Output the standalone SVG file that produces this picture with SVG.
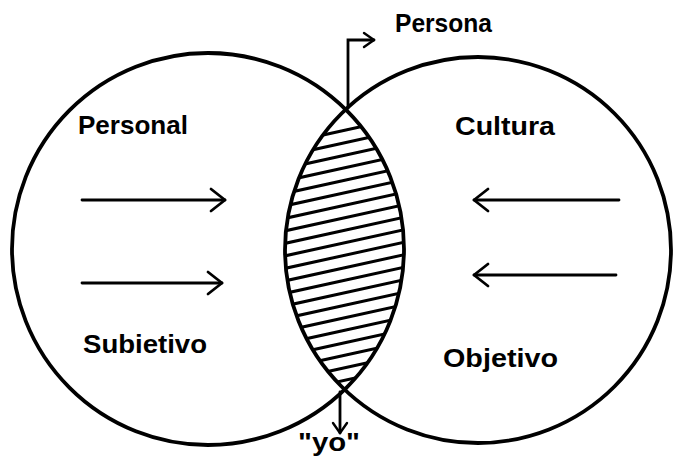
<svg xmlns="http://www.w3.org/2000/svg" width="674" height="459" viewBox="0 0 674 459">
  <style>
    .circ { fill: none; stroke: #000; stroke-width: 3.8; }
    .hatch { fill: none; stroke: #000; stroke-width: 3; stroke-linecap: round; }
    .arr { fill: none; stroke: #000; stroke-width: 2.8; stroke-linecap: round; }
    .lbl { font-family: "Liberation Sans", Arial, sans-serif; font-weight: bold; font-size: 25px; fill: #000; }
  </style>
  <defs>
    <clipPath id="clipL"><circle cx="208" cy="249" r="196"/></clipPath>
    <clipPath id="clipR"><circle cx="478" cy="250" r="193"/></clipPath>
    <marker id="headBig" markerUnits="userSpaceOnUse" markerWidth="40" markerHeight="40" refX="0" refY="0" orient="auto" overflow="visible">
      <path d="M -14 -11 L 0 0 L -14 11" fill="none" stroke="#000" stroke-width="2.8" stroke-linecap="round" stroke-linejoin="round"/>
    </marker>
    <marker id="headSmall" markerUnits="userSpaceOnUse" markerWidth="30" markerHeight="30" refX="0" refY="0" orient="auto" overflow="visible">
      <path d="M -10 -7 L 0 0 L -10 7" fill="none" stroke="#000" stroke-width="2.4" stroke-linecap="round" stroke-linejoin="round"/>
    </marker>
  </defs>
  <rect width="674" height="459" fill="#fff"/>

  <g id="node-personal">
    <circle class="circ" cx="208" cy="249" r="196"/>
    <text class="lbl" x="78" y="134" textLength="110" lengthAdjust="spacingAndGlyphs">Personal</text>
    <text class="lbl" x="83" y="353" textLength="124" lengthAdjust="spacingAndGlyphs">Subietivo</text>
  </g>

  <g id="node-cultura">
    <circle class="circ" cx="478" cy="250" r="193"/>
    <text class="lbl" x="455" y="135" textLength="100" lengthAdjust="spacingAndGlyphs">Cultura</text>
    <text class="lbl" x="443" y="367" textLength="115" lengthAdjust="spacingAndGlyphs">Objetivo</text>
  </g>

  <g id="node-lens">
    <g clip-path="url(#clipL)">
      <g clip-path="url(#clipR)">
        <path class="hatch" d="M280 144.5 L412 115.5 M280 157 L412 128 M280 169.5 L412 140.5 M280 182 L412 153 M280 194.5 L412 165.5 M280 207 L412 178 M280 219.5 L412 190.5 M280 232 L412 203 M280 244.5 L412 215.5 M280 257 L412 228 M280 269.5 L412 240.5 M280 282 L412 253 M280 294.5 L412 265.5 M280 307 L412 278 M280 319.5 L412 290.5 M280 332 L412 303 M280 344.5 L412 315.5 M280 357 L412 328 M280 369.5 L412 340.5 M280 382 L412 353 M280 394.5 L412 365.5"/>
      </g>
    </g>
  </g>

  <g id="node-persona-label">
    <text class="lbl" x="395" y="32" textLength="97" lengthAdjust="spacingAndGlyphs">Persona</text>
  </g>

  <g id="node-yo-label">
    <text class="lbl" x="298" y="451" textLength="62" lengthAdjust="spacingAndGlyphs">"yo"</text>
  </g>

  <g id="connectors">
    <path class="arr" d="M348 108 L348 40 L374 40" marker-end="url(#headSmall)"/>
    <path class="arr" d="M340 392 L340 433" marker-end="url(#headSmall)"/>
    <path class="arr" d="M82 200 L225 200" marker-end="url(#headBig)"/>
    <path class="arr" d="M82 283 L222 283" marker-end="url(#headBig)"/>
    <path class="arr" d="M619 200 L474 200" marker-end="url(#headBig)"/>
    <path class="arr" d="M616 275 L474 275" marker-end="url(#headBig)"/>
  </g>
</svg>
